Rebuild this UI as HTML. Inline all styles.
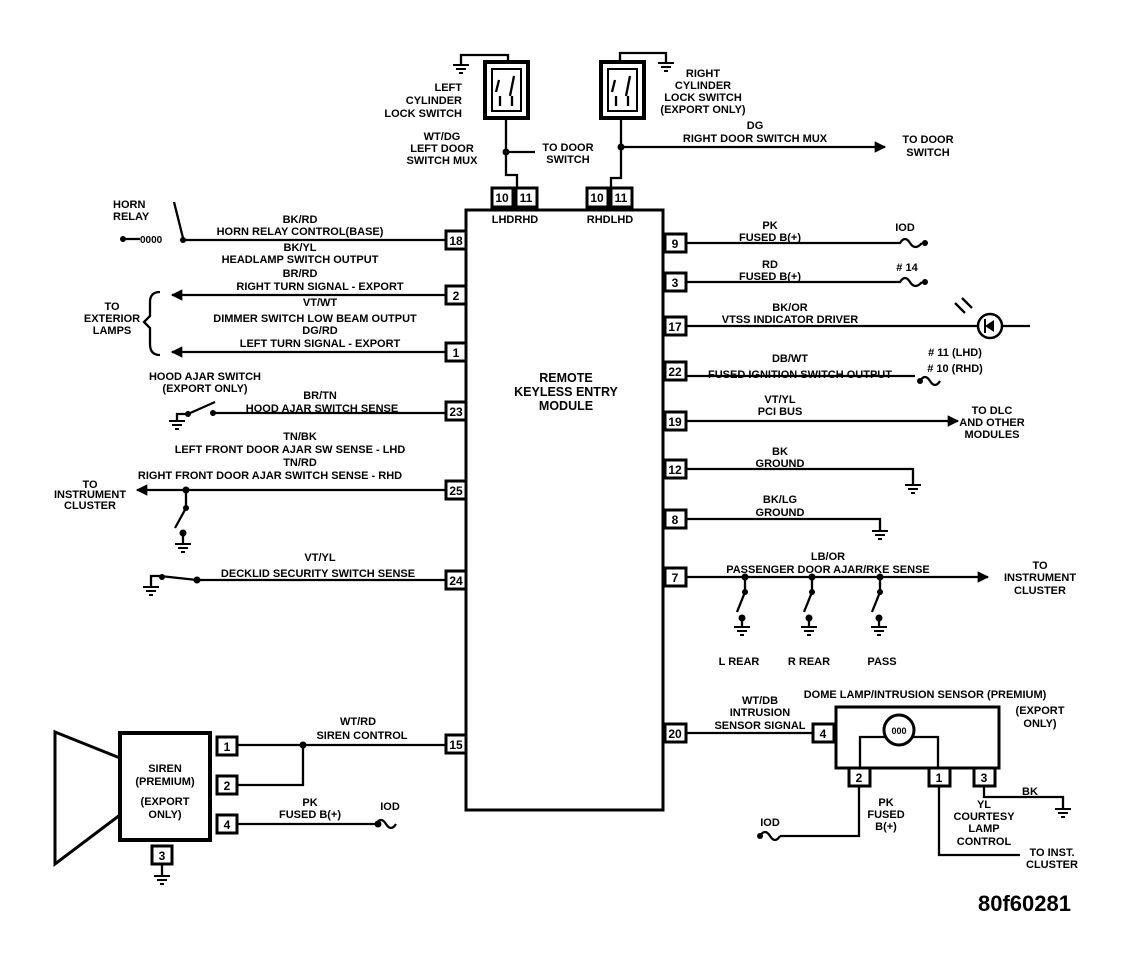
<!DOCTYPE html>
<html><head><meta charset="utf-8"><style>
html,body{margin:0;padding:0;background:#fff;}
svg{display:block;}
text{font-family:"Liberation Sans",sans-serif;font-weight:bold;font-size:11px;fill:#000;}
.c{text-anchor:middle;}
.r{text-anchor:end;}
.w{stroke:#000;stroke-width:2.3;fill:none;}
.pb{fill:#fff;stroke:#000;stroke-width:3;}
.pn{font-size:12px;text-anchor:middle;}
.big{font-size:12.5px;}
</style></head><body>
<svg width="1136" height="956" viewBox="0 0 1136 956" xmlns="http://www.w3.org/2000/svg">
<defs>
<g id="gnd"><line x1="-8" y1="0" x2="8" y2="0" stroke="#000" stroke-width="2"/><line x1="-5" y1="4" x2="5" y2="4" stroke="#000" stroke-width="2"/><line x1="-2" y1="8" x2="2" y2="8" stroke="#000" stroke-width="2"/></g>
<marker id="ar" viewBox="0 0 10 10" refX="9" refY="5" markerWidth="6" markerHeight="5" orient="auto"><path d="M0,0 L10,5 L0,10 z" fill="#000"/></marker>
</defs>

<!-- main module -->
<rect x="466" y="210" width="197" height="600" fill="#fff" stroke="#000" stroke-width="3"/>
<text class="c big" x="566" y="382">REMOTE</text>
<text class="c big" x="566" y="396">KEYLESS ENTRY</text>
<text class="c big" x="566" y="410">MODULE</text>

<!-- top -->
<rect x="485" y="62" width="43" height="56" fill="#fff" stroke="#000" stroke-width="4"/>
<rect x="492" y="69" width="29" height="42" fill="none" stroke="#000" stroke-width="2"/>
<path class="w" d="M499 80 l-3 12 M514 76 l-4 20 M500 96 l0 10 M512 96 l0 10"/>
<rect x="601" y="62" width="43" height="56" fill="#fff" stroke="#000" stroke-width="4"/>
<rect x="608" y="69" width="29" height="42" fill="none" stroke="#000" stroke-width="2"/>
<path class="w" d="M615 80 l-3 12 M630 76 l-4 20 M616 96 l0 10 M628 96 l0 10"/>
<path class="w" d="M461 65 V55 H508 V62"/>
<use href="#gnd" x="461" y="65"/>
<path class="w" d="M620 62 V53 H666 V63"/>
<use href="#gnd" x="666" y="63"/>
<path class="w" d="M506 118 V175 H517 V187"/>
<path class="w" d="M506 152 H535"/>
<circle cx="506" cy="152" r="3.5"/>
<path class="w" d="M621 118 V178 H611 V187"/>
<path class="w" d="M621 147 H885" marker-end="url(#ar)"/>
<circle cx="621" cy="147" r="3.5"/>
<rect class="pb" x="492" y="188" width="21" height="19"/><text class="pn" x="502" y="202">10</text>
<rect class="pb" x="516" y="188" width="21" height="19"/><text class="pn" x="526" y="202">11</text>
<rect class="pb" x="587" y="188" width="21" height="19"/><text class="pn" x="597" y="202">10</text>
<rect class="pb" x="611" y="188" width="21" height="19"/><text class="pn" x="621" y="202">11</text>
<text class="c" x="515" y="223">LHDRHD</text>
<text class="c" x="610" y="223">RHDLHD</text>
<text class="r" x="462" y="91">LEFT</text>
<text class="r" x="462" y="104">CYLINDER</text>
<text class="r" x="462" y="117">LOCK SWITCH</text>
<text class="c" x="442" y="140">WT/DG</text>
<text class="c" x="442" y="152">LEFT DOOR</text>
<text class="c" x="442" y="164">SWITCH MUX</text>
<text class="c" x="568" y="151">TO DOOR</text>
<text class="c" x="568" y="163">SWITCH</text>
<text class="c" x="703" y="77">RIGHT</text>
<text class="c" x="703" y="89">CYLINDER</text>
<text class="c" x="703" y="101">LOCK SWITCH</text>
<text class="c" x="703" y="113">(EXPORT ONLY)</text>
<text class="c" x="755" y="129">DG</text>
<text class="c" x="755" y="142">RIGHT DOOR SWITCH MUX</text>
<text class="c" x="928" y="143">TO DOOR</text>
<text class="c" x="928" y="156">SWITCH</text>

<!-- left side -->
<text x="113" y="208">HORN</text><text x="113" y="220">RELAY</text>
<path class="w" d="M174 202 L183 238"/>
<circle cx="123" cy="239" r="3"/>
<path class="w" d="M123 239 H140"/>
<text x="140" y="243" style="font-size:10px">0000</text>
<path class="w" d="M183 240 H446"/>
<circle cx="183" cy="240" r="3"/>
<text class="c" x="300" y="223">BK/RD</text>
<text class="c" x="300" y="235">HORN RELAY CONTROL(BASE)</text>
<text class="c" x="300" y="251">BK/YL</text>
<text class="c" x="300" y="263">HEADLAMP SWITCH OUTPUT</text>
<text class="c" x="300" y="277">BR/RD</text>
<text class="c" x="320" y="290">RIGHT TURN SIGNAL - EXPORT</text>
<rect class="pb" x="446" y="231" width="20" height="18"/><text class="pn" x="456" y="245">18</text>
<path class="w" d="M446 295 H172" marker-end="url(#ar)"/>
<rect class="pb" x="446" y="286" width="20" height="18"/><text class="pn" x="456" y="300">2</text>
<text class="c" x="320" y="306">VT/WT</text>
<text class="c" x="315" y="322">DIMMER SWITCH LOW BEAM OUTPUT</text>
<text class="c" x="320" y="334">DG/RD</text>
<text class="c" x="320" y="347">LEFT TURN SIGNAL - EXPORT</text>
<path class="w" d="M446 352 H172" marker-end="url(#ar)"/>
<rect class="pb" x="446" y="343" width="20" height="18"/><text class="pn" x="456" y="357">1</text>
<path class="w" d="M160 292 Q150 292 150 302 V316 L144 322 L150 328 V344 Q150 355 160 355"/>
<text class="c" x="112" y="310">TO</text>
<text class="c" x="112" y="322">EXTERIOR</text>
<text class="c" x="112" y="334">LAMPS</text>

<text class="c" x="205" y="380">HOOD AJAR SWITCH</text>
<text class="c" x="205" y="392">(EXPORT ONLY)</text>
<text class="c" x="320" y="399">BR/TN</text>
<text class="c" x="322" y="412">HOOD AJAR SWITCH SENSE</text>
<path class="w" d="M213 413 H446"/>
<circle cx="213" cy="413" r="3"/>
<path class="w" d="M188 414 L215 402"/>
<circle cx="188" cy="414" r="3"/>
<path class="w" d="M188 414 H177 V420"/>
<use href="#gnd" x="177" y="421"/>
<rect class="pb" x="446" y="402" width="20" height="18"/><text class="pn" x="456" y="416">23</text>

<text class="c" x="300" y="440">TN/BK</text>
<text class="c" x="290" y="453">LEFT FRONT DOOR AJAR SW SENSE - LHD</text>
<text class="c" x="300" y="466">TN/RD</text>
<text class="c" x="270" y="479">RIGHT FRONT DOOR AJAR SWITCH SENSE - RHD</text>
<path class="w" d="M446 490 H137" marker-end="url(#ar)"/>
<circle cx="186" cy="490" r="3.5"/>
<path class="w" d="M186 490 V508 L175 528"/>
<circle cx="186" cy="508" r="3"/>
<circle cx="183" cy="533" r="3.5"/>
<path class="w" d="M183 533 V543"/>
<use href="#gnd" x="183" y="544"/>
<rect class="pb" x="446" y="481" width="20" height="18"/><text class="pn" x="456" y="495">25</text>
<text class="c" x="90" y="488">TO</text>
<text class="c" x="90" y="498">INSTRUMENT</text>
<text class="c" x="90" y="509">CLUSTER</text>

<text class="c" x="320" y="561">VT/YL</text>
<text class="c" x="318" y="577">DECKLID SECURITY SWITCH SENSE</text>
<path class="w" d="M197 580 H446"/>
<circle cx="197" cy="580" r="3.5"/>
<path class="w" d="M197 580 L160 576 H151 V586"/>
<circle cx="162" cy="577" r="3"/>
<use href="#gnd" x="151" y="587"/>
<rect class="pb" x="446" y="571" width="20" height="18"/><text class="pn" x="456" y="585">24</text>

<!-- siren -->
<path d="M55 732 L120 758 V815 L55 864 Z" fill="#fff" stroke="#000" stroke-width="3"/>
<rect x="120" y="733" width="90" height="107" fill="#fff" stroke="#000" stroke-width="4"/>
<text class="c" x="165" y="772">SIREN</text>
<text class="c" x="165" y="785">(PREMIUM)</text>
<text class="c" x="165" y="805">(EXPORT</text>
<text class="c" x="165" y="818">ONLY)</text>
<rect class="pb" x="217" y="737" width="20" height="18"/><text class="pn" x="227" y="751">1</text>
<rect class="pb" x="217" y="776" width="20" height="18"/><text class="pn" x="227" y="790">2</text>
<rect class="pb" x="217" y="815" width="20" height="18"/><text class="pn" x="227" y="829">4</text>
<rect class="pb" x="152" y="846" width="20" height="18"/><text class="pn" x="162" y="860">3</text>
<path class="w" d="M162 864 V875"/><use href="#gnd" x="162" y="876"/>
<path class="w" d="M237 745 H446 M303 745 V785 H237"/>
<circle cx="303" cy="745" r="3.5"/>
<text class="c" x="358" y="725">WT/RD</text>
<text class="c" x="362" y="739">SIREN CONTROL</text>
<rect class="pb" x="446" y="735" width="20" height="18"/><text class="pn" x="456" y="749">15</text>
<path class="w" d="M237 824 H376 q5 -8 10 0 q5 8 10 0"/>
<circle cx="378" cy="824" r="3.5"/>
<text class="c" x="310" y="806">PK</text>
<text class="c" x="310" y="818">FUSED B(+)</text>
<text class="c" x="390" y="810">IOD</text>

<!-- right side -->
<rect class="pb" x="665" y="234" width="21" height="18"/><text class="pn" x="675" y="248">9</text>
<path class="w" d="M686 243 H900 q5 -8 10 0 q5 8 12 0"/><circle cx="925" cy="243" r="3"/>
<text class="c" x="770" y="229">PK</text><text class="c" x="770" y="241">FUSED B(+)</text>
<text class="c" x="905" y="231">IOD</text>
<rect class="pb" x="665" y="273" width="21" height="18"/><text class="pn" x="675" y="287">3</text>
<path class="w" d="M686 282 H900 q5 -8 10 0 q5 8 12 0"/><circle cx="925" cy="282" r="3"/>
<text class="c" x="770" y="268">RD</text><text class="c" x="770" y="280">FUSED B(+)</text>
<text class="c" x="907" y="271"># 14</text>
<rect class="pb" x="665" y="317" width="21" height="18"/><text class="pn" x="675" y="331">17</text>
<path class="w" d="M686 326 H978 M1002 326 H1030"/>
<circle cx="990" cy="326" r="12" fill="#fff" stroke="#000" stroke-width="2.5"/>
<path d="M985 326 L994 320 V332 Z" fill="#000"/><line x1="985" y1="319" x2="985" y2="333" stroke="#000" stroke-width="2"/>
<path class="w" d="M965 313 L955 303 M972 308 L962 298"/>
<text class="c" x="790" y="311">BK/OR</text><text class="c" x="790" y="323">VTSS INDICATOR DRIVER</text>
<rect class="pb" x="665" y="362" width="21" height="18"/><text class="pn" x="675" y="376">22</text>
<path class="w" d="M686 376 H915"/>
<path class="w" d="M920 381 q5 -8 10 0 q5 8 10 0"/><circle cx="920" cy="381" r="3"/>
<text class="c" x="790" y="362">DB/WT</text><text class="c" x="800" y="378">FUSED IGNITION SWITCH OUTPUT</text>
<text class="c" x="955" y="356"># 11 (LHD)</text><text class="c" x="955" y="372"># 10 (RHD)</text>
<rect class="pb" x="665" y="412" width="21" height="18"/><text class="pn" x="675" y="426">19</text>
<path class="w" d="M686 421 H958" marker-end="url(#ar)"/>
<text class="c" x="780" y="403">VT/YL</text><text class="c" x="780" y="415">PCI BUS</text>
<text class="c" x="992" y="414">TO DLC</text><text class="c" x="992" y="426">AND OTHER</text><text class="c" x="992" y="438">MODULES</text>
<rect class="pb" x="665" y="460" width="21" height="18"/><text class="pn" x="675" y="474">12</text>
<path class="w" d="M686 469 H913 V484"/><use href="#gnd" x="913" y="485"/>
<text class="c" x="780" y="455">BK</text><text class="c" x="780" y="467">GROUND</text>
<rect class="pb" x="665" y="510" width="21" height="18"/><text class="pn" x="675" y="524">8</text>
<path class="w" d="M686 519 H880 V530"/><use href="#gnd" x="880" y="531"/>
<text class="c" x="780" y="503">BK/LG</text><text class="c" x="780" y="516">GROUND</text>
<rect class="pb" x="665" y="568" width="21" height="18"/><text class="pn" x="675" y="582">7</text>
<path class="w" d="M686 577 H988" marker-end="url(#ar)"/>
<text class="c" x="828" y="560">LB/OR</text><text class="c" x="828" y="573">PASSENGER DOOR AJAR/RKE SENSE</text>
<text class="c" x="1040" y="569">TO</text><text class="c" x="1040" y="581">INSTRUMENT</text><text class="c" x="1040" y="594">CLUSTER</text>
<g>
<circle cx="745" cy="577" r="3.5"/><path class="w" d="M745 577 V592 L737 612"/><circle cx="745" cy="592" r="3"/><circle cx="742" cy="618" r="3.5"/><path class="w" d="M742 618 V626"/><use href="#gnd" x="742" y="627"/>
<circle cx="812" cy="577" r="3.5"/><path class="w" d="M812 577 V592 L804 612"/><circle cx="812" cy="592" r="3"/><circle cx="809" cy="618" r="3.5"/><path class="w" d="M809 618 V626"/><use href="#gnd" x="809" y="627"/>
<circle cx="880" cy="577" r="3.5"/><path class="w" d="M880 577 V592 L872 612"/><circle cx="880" cy="592" r="3"/><circle cx="879" cy="618" r="3.5"/><path class="w" d="M879 618 V626"/><use href="#gnd" x="879" y="627"/>
</g>
<text class="c" x="739" y="665">L REAR</text><text class="c" x="809" y="665">R REAR</text><text class="c" x="882" y="665">PASS</text>

<rect class="pb" x="665" y="724" width="21" height="18"/><text class="pn" x="675" y="738">20</text>
<path class="w" d="M686 733 H812"/>
<text class="c" x="760" y="704">WT/DB</text><text class="c" x="760" y="716">INTRUSION</text><text class="c" x="760" y="729">SENSOR SIGNAL</text>
<rect class="pb" x="813" y="724" width="21" height="18"/><text class="pn" x="823" y="738">4</text>
<rect x="836" y="707" width="163" height="61" fill="#fff" stroke="#000" stroke-width="3"/>
<path class="w" d="M860 768 V737 H938 V768"/>
<circle cx="899" cy="730" r="15" fill="#fff" stroke="#000" stroke-width="3"/>
<text class="c" x="899" y="734" style="font-size:9px">000</text>
<text class="c" x="925" y="698">DOME LAMP/INTRUSION SENSOR (PREMIUM)</text>
<text class="c" x="1040" y="714">(EXPORT</text><text class="c" x="1040" y="727">ONLY)</text>
<rect class="pb" x="849" y="768" width="21" height="18"/><text class="pn" x="859" y="782">2</text>
<rect class="pb" x="929" y="768" width="21" height="18"/><text class="pn" x="939" y="782">1</text>
<rect class="pb" x="974" y="768" width="21" height="18"/><text class="pn" x="984" y="782">3</text>
<path class="w" d="M859 786 V836 H780"/>
<path class="w" d="M760 836 q5 -8 10 0 q5 8 10 0"/><circle cx="760" cy="836" r="3"/>
<text class="c" x="770" y="826">IOD</text>
<text class="c" x="886" y="806">PK</text><text class="c" x="886" y="818">FUSED</text><text class="c" x="886" y="830">B(+)</text>
<path class="w" d="M939 786 V855 H1020"/>
<text class="c" x="1052" y="856">TO INST.</text><text class="c" x="1052" y="868">CLUSTER</text>
<path class="w" d="M984 786 V797 H1063 V808"/><use href="#gnd" x="1063" y="809"/>
<text class="c" x="1030" y="795">BK</text>
<text class="c" x="984" y="808">YL</text><text class="c" x="984" y="820">COURTESY</text><text class="c" x="984" y="832">LAMP</text><text class="c" x="984" y="845">CONTROL</text>

<text x="978" y="911" style="font-size:22px">80f60281</text>
</svg>
</body></html>
